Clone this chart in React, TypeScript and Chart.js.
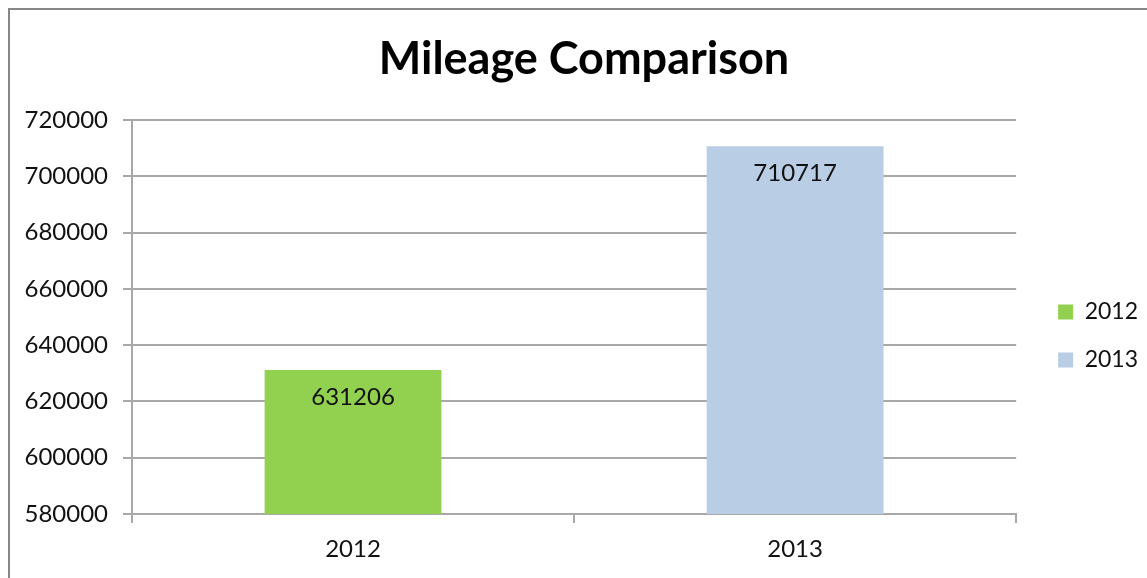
import React, { useEffect, useRef } from "react";
import { Chart, registerables } from "chart.js";

Chart.register(...registerables);

const categories: string[] = ["2012", "2013"];
const seriesNames: string[] = ["2012", "2013"];
const values2012: (number | null)[] = [631206, null];
const values2013: (number | null)[] = [null, 710717];
const seriesColors: string[] = ["#92D050", "#B9CDE5"];
const yMin = 580000;
const yMax = 720000;
const yStep = 20000;
const titleText = "Mileage Comparison";

const FONT = "Lato, 'Noto Sans', sans-serif";
const GRID = "#a8a8a8";

const borderPlugin = {
  id: "outerBorder",
  beforeDraw(chart: any) {
    const { ctx, width, height } = chart;
    ctx.save();
    ctx.fillStyle = "#ffffff";
    ctx.fillRect(0, 0, width, height);
    ctx.strokeStyle = "#868686";
    ctx.lineWidth = 2;
    ctx.beginPath();
    ctx.moveTo(1, height);
    ctx.lineTo(1, 1);
    ctx.lineTo(width, 1);
    ctx.stroke();
    ctx.restore();
  },
};

const valueLabelPlugin = {
  id: "valueLabels",
  afterDatasetsDraw(chart: any) {
    const { ctx } = chart;
    ctx.save();
    ctx.font = `24px ${FONT}`;
    ctx.fillStyle = "#111111";
    ctx.textAlign = "center";
    ctx.textBaseline = "middle";
    chart.data.datasets.forEach((ds: any, di: number) => {
      const meta = chart.getDatasetMeta(di);
      meta.data.forEach((bar: any, i: number) => {
        const v = ds.data[i];
        if (v === null || v === undefined) return;
        ctx.fillText(String(v), bar.x, bar.y + 27);
      });
    });
    ctx.restore();
  },
};

export default function App() {
  const ref = useRef<HTMLCanvasElement | null>(null);

  useEffect(() => {
    if (!ref.current) return;
    const chart = new Chart(ref.current, {
      type: "bar",
      data: {
        labels: categories,
        datasets: [
          {
            label: seriesNames[0],
            data: values2012,
            backgroundColor: seriesColors[0],
            grouped: false,
            barPercentage: 0.4,
            categoryPercentage: 1,
          },
          {
            label: seriesNames[1],
            data: values2013,
            backgroundColor: seriesColors[1],
            grouped: false,
            barPercentage: 0.4,
            categoryPercentage: 1,
          },
        ],
      },
      options: {
        animation: false,
        responsive: false,
        devicePixelRatio: 1,
        layout: { padding: { left: 12, right: 20, top: 0, bottom: 0 } },
        plugins: {
          title: {
            display: true,
            text: titleText,
            color: "#000000",
            font: { family: FONT, size: 45, weight: "bold", lineHeight: 1.2 },
            padding: { top: 24, bottom: 34 },
          },
          legend: {
            display: true,
            position: "right",
            title: {
              display: true,
              text: "",
              font: { size: 10, lineHeight: 1 },
              padding: { top: 0, bottom: 66 },
            },
            labels: {
              boxWidth: 15,
              boxHeight: 15,
              padding: 25,
              color: "#111111",
              font: { family: FONT, size: 23 },
            },
          },
          tooltip: { enabled: false },
        },
        scales: {
          x: {
            grid: {
              display: true,
              offset: true,
              drawOnChartArea: false,
              drawTicks: true,
              tickLength: 9,
              color: GRID,
              lineWidth: 2,
            },
            border: { display: true, color: GRID, width: 2 },
            ticks: {
              color: "#111111",
              font: { family: FONT, size: 24 },
              padding: 12,
            },
            afterFit: (s: any) => {
              s.height = 74;
            },
          },
          y: {
            min: yMin,
            max: yMax,
            grid: {
              display: true,
              drawTicks: true,
              tickLength: 9,
              color: GRID,
              lineWidth: 2,
            },
            border: { display: true, color: GRID, width: 2 },
            ticks: {
              stepSize: yStep,
              color: "#111111",
              font: { family: FONT, size: 24 },
              padding: 15,
              callback: (v: any) => String(v),
            },
            afterFit: (s: any) => {
              s.width = 112;
            },
          },
          gap: {
            type: "linear",
            position: "right",
            display: true,
            grid: { display: false },
            border: { display: false },
            ticks: { display: false },
            afterFit: (s: any) => {
              s.width = 17;
            },
          },
        },
      },
      plugins: [borderPlugin, valueLabelPlugin],
    } as any);
    return () => chart.destroy();
  }, []);

  return (
    <div style={{ position: "fixed", left: 8, top: 8, width: 1160, height: 580 }}>
      <canvas ref={ref} width={1160} height={580} style={{ display: "block", width: 1160, height: 580 }} />
    </div>
  );
}
